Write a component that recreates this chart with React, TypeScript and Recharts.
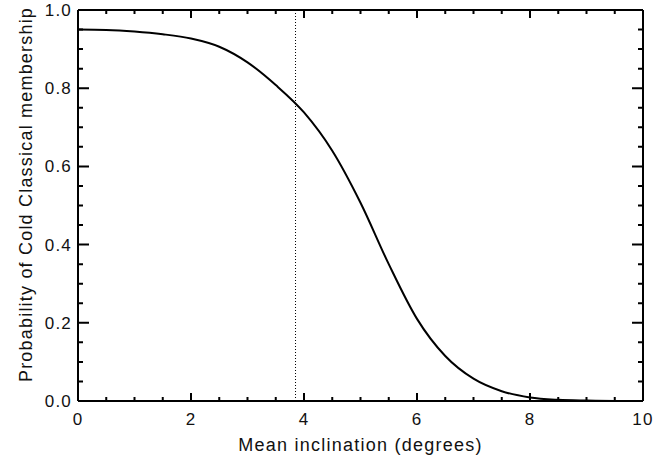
import React from "react";
import {
  LineChart,
  Line,
  XAxis,
  YAxis,
  ReferenceLine,
  Label,
} from "recharts";

// mean inclination (deg) vs probability of cold classical membership
const inclination = [0, 0.5, 1, 1.5, 2, 2.5, 3, 3.5, 4, 4.5, 5, 5.5, 6, 6.5, 7, 7.5, 8, 8.5, 9, 9.5, 10];
const probability = [
  0.95, 0.949, 0.945, 0.938, 0.927, 0.906, 0.866, 0.808, 0.738, 0.64, 0.507,
  0.35, 0.21, 0.115, 0.057, 0.025, 0.009, 0.003, 0.001, 0.0, 0.0,
];
const cutoff = 3.85;

const xTicks = [0, 0.5, 1, 1.5, 2, 2.5, 3, 3.5, 4, 4.5, 5, 5.5, 6, 6.5, 7, 7.5, 8, 8.5, 9, 9.5, 10];
const yTicks = [
  0, 0.05, 0.1, 0.15, 0.2, 0.25, 0.3, 0.35, 0.4, 0.45, 0.5, 0.55, 0.6, 0.65, 0.7,
  0.75, 0.8, 0.85, 0.9, 0.95, 1.0,
];
const xLabels = [0, 2, 4, 6, 8, 10];
const yLabels = [0, 0.2, 0.4, 0.6, 0.8, 1.0];

const data = inclination.map((x, i) => ({ x, p: probability[i] }));

const FONT = "'Liberation Sans', Arial, Helvetica, sans-serif";

// axis only writes the numbers; frame + inward ticks are reference lines
const xTickLabel = (props: any) => {
  const { x, y, payload } = props;
  return (
    <text x={x} y={y + 24} textAnchor="middle" fontSize={17} letterSpacing={1.2} fill="#111" fontFamily={FONT}>
      {String(payload.value)}
    </text>
  );
};
const yTickLabel = (props: any) => {
  const { x, y, payload } = props;
  return (
    <text x={x - 6} y={y + 6} textAnchor="end" fontSize={17} letterSpacing={1.2} fill="#111" fontFamily={FONT}>
      {Number(payload.value).toFixed(1)}
    </text>
  );
};

// short marks at both ends of a full-height / full-width reference line
const vTick = (len: number) => (p: any) => {
  const top = Math.min(p.y1, p.y2);
  const bot = Math.max(p.y1, p.y2);
  return <path d={`M${p.x1},${top}V${top + len}M${p.x1},${bot}V${bot - len}`} stroke="#000" strokeWidth={2} fill="none" />;
};
const hTick = (len: number) => (p: any) => {
  const l = Math.min(p.x1, p.x2);
  const r = Math.max(p.x1, p.x2);
  return <path d={`M${l},${p.y1}H${l + len}M${r},${p.y1}H${r - len}`} stroke="#000" strokeWidth={2} fill="none" />;
};

export default function App() {
  return (
    <div style={{ position: "absolute", left: 0, top: 0, background: "#fff" }}>
      <LineChart
        width={667}
        height={460}
        data={data}
        margin={{ top: 10, right: 24, left: 0, bottom: 0 }}
      >
        <XAxis
          dataKey="x"
          type="number"
          domain={[0, 10]}
          ticks={xLabels}
          interval={0}
          height={59}
          tickSize={0}
          tickMargin={0}
          tickLine={false}
          axisLine={false}
          tick={xTickLabel}
        >
          <Label
            content={(p: any) => {
              const vb = p.viewBox;
              return (
                <text
                  x={vb.x + vb.width / 2}
                  y={vb.y + 50}
                  textAnchor="middle"
                  fontSize={18}
                  letterSpacing={1.25}
                  fill="#111"
                  fontFamily={FONT}
                >
                  Mean inclination (degrees)
                </text>
              );
            }}
          />
        </XAxis>
        <YAxis
          type="number"
          domain={[0, 1]}
          ticks={yLabels}
          interval={0}
          width={78}
          tickSize={0}
          tickMargin={0}
          tickLine={false}
          axisLine={false}
          tick={yTickLabel}
        >
          <Label
            content={(p: any) => {
              const vb = p.viewBox;
              const cx = vb.x + 31.5;
              const cy = vb.y + vb.height / 2 - 11;
              return (
                <text
                  x={cx}
                  y={cy}
                  transform={`rotate(-90 ${cx} ${cy})`}
                  textAnchor="middle"
                  fontSize={18}
                  letterSpacing={1.2}
                  fill="#111"
                  fontFamily={FONT}
                >
                  Probability of Cold Classical membership
                </text>
              );
            }}
          />
        </YAxis>
        {xTicks.map((v, i) => (
          <ReferenceLine key={"xt" + v} x={v} shape={vTick(i % 4 === 0 ? 8 : 4)} />
        ))}
        {yTicks.map((v, i) => (
          <ReferenceLine key={"yt" + v} y={v} shape={hTick(i % 4 === 0 ? 11 : 5)} />
        ))}
        <ReferenceLine
          x={cutoff}
          stroke="#000"
          strokeWidth={1}
          strokeDasharray="1 2"
        />
        <Line
          type="monotone"
          dataKey="p"
          stroke="#000"
          strokeWidth={2}
          dot={false}
          activeDot={false}
          isAnimationActive={false}
        />
        <ReferenceLine x={0} stroke="#000" strokeWidth={2} />
        <ReferenceLine x={10} stroke="#000" strokeWidth={2} />
        <ReferenceLine y={0} stroke="#000" strokeWidth={2} />
        <ReferenceLine y={1} stroke="#000" strokeWidth={2} />
      </LineChart>
    </div>
  );
}
